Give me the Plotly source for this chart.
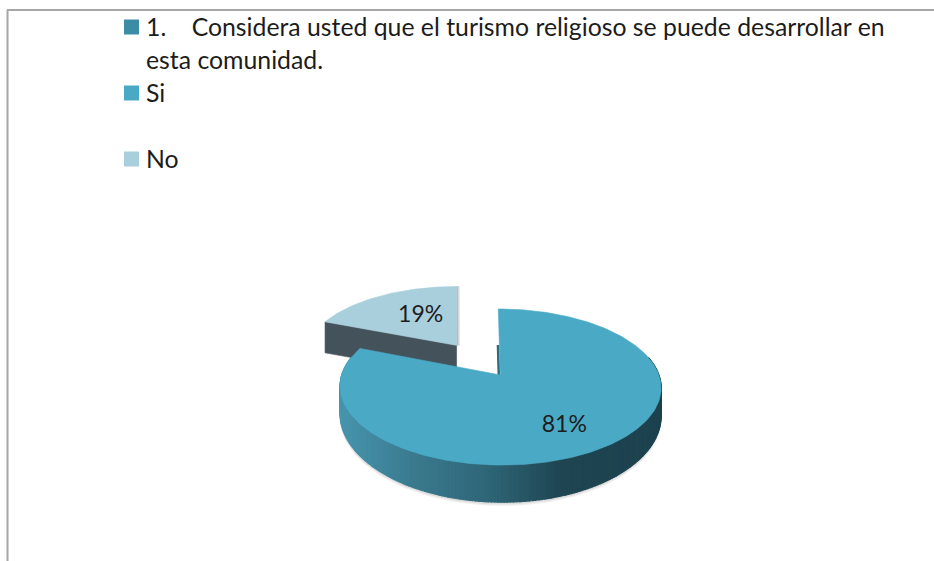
import numpy as np
import plotly.graph_objects as go

# ---- data ----
categories = ["Si", "No"]
values = [81, 19]
legend_lines = ["1.\u00a0\u00a0\u00a0\u00a0Considera usted que el turismo religioso se puede desarrollar en",
                "esta comunidad."]
legend_colors = ["#3d8ca6", "#4aaac6", "#a9cedc"]

# ---- drawing constants (perspective pie projection) ----
W, H = 934, 561
CX, CY = 500.3, 375
BX, AY, K = 158.6, 76.2, 0.154
TILT = 2.0
FONT = "Lato"
TXT = "#1c1c1c"
LEGEND_SIZE = 24.8

def project(u, v):
    den = 1 + K * np.asarray(v, float)
    return CX + BX * np.asarray(u, float) / den - TILT * np.asarray(v, float), CY - AY * np.asarray(v, float) / den

def mix(c1, c2, t):
    a = [int(c1[i:i+2], 16) for i in (1, 3, 5)]
    b = [int(c2[i:i+2], 16) for i in (1, 3, 5)]
    return "rgb(%d,%d,%d)" % tuple(round(p + (q - p) * t) for p, q in zip(a, b))

def poly(x, y, color, opacity=1.0, lw=0.6):
    return go.Scatter(x=list(x), y=list(y), mode="lines", fill="toself", fillcolor=color,
                      line=dict(color=color, width=lw), opacity=opacity,
                      hoverinfo="skip", showlegend=False)

total = sum(values)
sweep_si = 2 * np.pi * values[0] / total
fig = go.Figure()

# exploded slice "No"
EXPL = 0.5
mid_no = sweep_si + (2 * np.pi - sweep_si) / 2
ox, oy = EXPL * np.sin(mid_no), EXPL * np.cos(mid_no)

def project_slice(u, v):
    x, y = project(u, v)
    return x - 1 - 3.5 * (np.asarray(v, float) - oy), y

th = np.linspace(sweep_si, 2 * np.pi, 50)
ux = np.r_[ox, ox + np.sin(th), ox]
vy = np.r_[oy, oy + np.cos(th), oy]
sx, sy = project_slice(ux, vy)

# cut face of the slice
ex, ey = project_slice([ox + np.sin(sweep_si), ox], [oy + np.cos(sweep_si), oy])
fig.add_trace(poly([ex[0], ex[1], ex[1], ex[0], ex[0]],
                   [ey[0], ey[1], ey[1] + 31, ey[0] + 31, ey[0]], "#44535b"))
# soft edge to the right of the slice
for w, op in ((3.0, 0.25), (1.5, 0.4)):
    fig.add_trace(poly([sx[0], sx[-2], sx[-2] + w, sx[0] + w, sx[0]],
                       [sy[0], sy[-2], sy[-2], sy[0], sy[0]], "#7f8a90", op))
fig.add_trace(poly(sx, sy, legend_colors[2]))

# main slice "Si"
th = np.linspace(0, sweep_si, 300)
mx, my = project(np.sin(th), np.cos(th))
depth = 26.5 / (1 + K * np.cos(th)) ** 2

# soft shadow under the wall
low = np.linspace(np.pi * 0.42, np.pi * 1.58, 90)
lx, ly = project(np.sin(low), np.cos(low))
ld = 26.5 / (1 + K * np.cos(low)) ** 2
for grow, op in ((3.5, 0.12), (2.0, 0.18)):
    fig.add_trace(poly(np.r_[lx, lx[::-1]], np.r_[ly, (ly + ld + grow)[::-1]], "#808080", op))

# wall as narrow strips, shaded from left to right
stops = [(340, "#4795ae"), (410, "#3b7b90"), (490, "#2e6576"), (560, "#1f4552"), (665, "#1d424e")]
def wall_color(x):
    for (x0, c0), (x1, c1) in zip(stops, stops[1:]):
        if x <= x1:
            return mix(c0, c1, max(0.0, (x - x0) / (x1 - x0)))
    return stops[-1][1]

idx = np.where((th > np.pi * 0.42) & (th < np.pi * 1.58))[0]
for a, b in zip(idx[:-1], idx[1:]):
    xs = [mx[a], mx[b], mx[b], mx[a], mx[a]]
    ys = [my[a], my[b], my[b] + depth[b], my[a] + depth[a], my[a]]
    fig.add_trace(poly(xs, ys, wall_color((mx[a] + mx[b]) / 2), lw=1.2))

# inner edge of the slice start
ix, iy = project([0, 0], [0.42, 0])
fig.add_trace(go.Scatter(x=list(ix - 1.5), y=list(iy), mode="lines", hoverinfo="skip", showlegend=False,
                         line=dict(color="#2f6a7b", width=2.5)))

ax, ay = project(0, 0)
fig.add_trace(poly(np.r_[ax, mx, ax], np.r_[ay, my, ay], legend_colors[1]))

# value labels
m_si = sweep_si / 2
lx1, ly1 = project(0.68 * np.sin(m_si), 0.68 * np.cos(m_si))
lx2, ly2 = project(ox + 0.52 * np.sin(mid_no), oy + 0.52 * np.cos(mid_no))
fig.add_trace(go.Scatter(x=[float(lx1) - 3.5, float(lx2) + 2.5], y=[float(ly1) + 4, float(ly2) - 2], mode="text",
                         text=["%d%%" % v for v in values], hoverinfo="skip", showlegend=False,
                         textposition="middle center",
                         textfont=dict(family=FONT, size=23, color=TXT)))

# legend block: swatches and text lines
TEXT_X = 145
rows = [(legend_lines[0], 27, legend_colors[0]), (legend_lines[1], 60, None),
        (categories[0], 93, legend_colors[1]), (categories[1], 159, legend_colors[2])]
shapes = [
    dict(type="line", x0=7.5, x1=7.5, y0=H, y1=10, line=dict(color="#a6a6a6", width=2)),
    dict(type="line", x0=7, x1=W, y0=10, y1=10, line=dict(color="#a6a6a6", width=2)),
]
annotations = []
for text, y, color in rows:
    annotations.append(dict(x=TEXT_X, y=y - 1, text=text, xref="x", yref="y", xanchor="left", yanchor="middle",
                            showarrow=False, borderpad=0,
                            font=dict(family=FONT, size=LEGEND_SIZE, color=TXT)))
    if color:
        shapes.append(dict(type="rect", x0=124, x1=139, y0=y - 7.5, y1=y + 7.5, fillcolor=color,
                           line=dict(width=0)))

fig.update_layout(
    width=W, height=H, autosize=False,
    margin=dict(l=0, r=0, t=0, b=0),
    paper_bgcolor="white", plot_bgcolor="white",
    showlegend=False,
    xaxis=dict(range=[0, W], visible=False, fixedrange=True),
    yaxis=dict(range=[H, 0], visible=False, fixedrange=True),
    shapes=shapes, annotations=annotations,
)
fig.write_html("out.html", config={"displayModeBar": False},
               post_script="document.body.style.margin='0';document.documentElement.style.overflow='hidden';")
